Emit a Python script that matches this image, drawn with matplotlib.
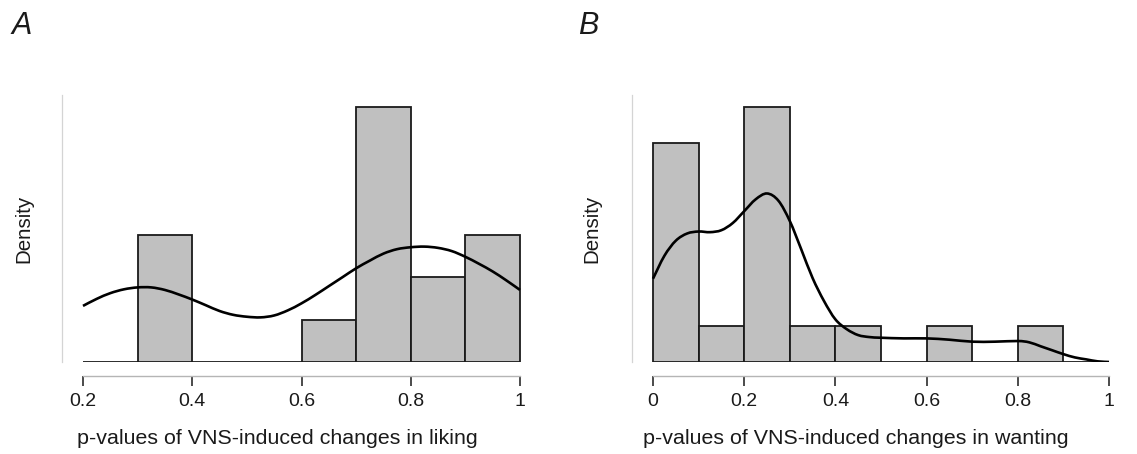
import numpy as np
from matplotlib import pyplot as plt
from matplotlib.path import Path
from matplotlib.patches import PathPatch

plt.rcParams['font.family'] = ['Liberation Sans', 'DejaVu Sans']

# histogram bins (left edges) and counts
liking_edges = [0.2, 0.3, 0.4, 0.5, 0.6, 0.7, 0.8, 0.9]
liking_counts = [0, 3, 0, 0, 1, 6, 2, 3]
wanting_edges = [0.0, 0.1, 0.2, 0.3, 0.4, 0.5, 0.6, 0.7, 0.8, 0.9]
wanting_counts = [6, 1, 7, 1, 1, 0, 1, 0, 1, 0]
bin_w = 0.1

# density curves
liking_kde_x = [0.200, 0.225, 0.250, 0.275, 0.300, 0.325, 0.350, 0.375, 0.400, 0.425,
                0.450, 0.475, 0.500, 0.525, 0.550, 0.575, 0.600, 0.625, 0.650, 0.675,
                0.700, 0.725, 0.750, 0.775, 0.800, 0.825, 0.850, 0.875, 0.900, 0.925,
                0.950, 0.975, 1.000]
liking_kde_y = [0.88, 0.99, 1.08, 1.14, 1.17, 1.17, 1.13, 1.06, 0.98, 0.89,
                0.80, 0.74, 0.71, 0.70, 0.73, 0.81, 0.92, 1.05, 1.19, 1.33,
                1.47, 1.59, 1.70, 1.77, 1.80, 1.81, 1.79, 1.74, 1.65, 1.54,
                1.42, 1.28, 1.13]
wanting_kde_x = [0.000, 0.025, 0.050, 0.075, 0.100, 0.125, 0.150, 0.175, 0.200, 0.225,
                 0.250, 0.275, 0.300, 0.325, 0.350, 0.375, 0.400, 0.425, 0.450, 0.475,
                 0.500, 0.550, 0.600, 0.650, 0.700, 0.750, 0.800, 0.825, 0.850, 0.875,
                 0.900, 0.925, 0.950, 0.975, 1.000]
wanting_kde_y = [1.27, 1.62, 1.85, 1.96, 1.99, 1.98, 2.01, 2.12, 2.30, 2.48,
                 2.57, 2.46, 2.15, 1.72, 1.28, 0.93, 0.65, 0.50, 0.41, 0.38,
                 0.37, 0.36, 0.36, 0.34, 0.31, 0.31, 0.32, 0.30, 0.24, 0.18,
                 0.12, 0.07, 0.04, 0.01, 0.00]

liking_ticks = [0.2, 0.4, 0.6, 0.8, 1.0]
liking_ticklabels = ['0.2', '0.4', '0.6', '0.8', '1']
wanting_ticks = [0.0, 0.2, 0.4, 0.6, 0.8, 1.0]
wanting_ticklabels = ['0', '0.2', '0.4', '0.6', '0.8', '1']

xlabels = ['p-values of VNS-induced changes in liking',
           'p-values of VNS-induced changes in wanting']

W, H = 1137, 454
fig = plt.figure(figsize=(W / 100, H / 100), dpi=100)

ax_a = fig.add_axes([62 / W, (H - 362) / H, (523 - 62) / W, (362 - 95) / H])
ax_b = fig.add_axes([632 / W, (H - 362) / H, (1112 - 632) / W, (362 - 95) / H])


def smooth_path(xs, ys):
    # draw the read points as a smooth bezier line (catmull-rom control points)
    p = np.column_stack([xs, ys])
    verts = [p[0]]
    codes = [Path.MOVETO]
    for i in range(len(p) - 1):
        p0 = p[i - 1] if i > 0 else p[i]
        p3 = p[i + 2] if i + 2 < len(p) else p[i + 1]
        c1 = p[i] + (p[i + 1] - p0) / 6
        c2 = p[i + 1] - (p3 - p[i]) / 6
        verts += [c1, c2, p[i + 1]]
        codes += [Path.CURVE4] * 3
    return Path(verts, codes)


def draw_panel(ax, edges, counts, kx, ky, ticks, ticklabels, x0, x1, px0, px1, xlabel):
    n = sum(counts)
    dens = [c / (n * bin_w) for c in counts]
    ax.bar(edges, dens, width=bin_w, align='edge', color='#c0c0c0',
           edgecolor='#1a1a1a', linewidth=1.3, zorder=2)
    ax.add_patch(PathPatch(smooth_path(kx, ky), facecolor='none', edgecolor='black',
                           linewidth=1.9, zorder=3, capstyle='butt'))

    ppu = (px1 - px0) / (x1 - x0)
    bb = ax.get_position()
    left_px = bb.x0 * W
    right_px = bb.x1 * W
    ax.set_xlim(x0 - (px0 - left_px) / ppu, x1 + (right_px - px1) / ppu)
    ymax = max(dens)
    ax.set_ylim(0, ymax * 267 / 255)

    for s in ['top', 'right']:
        ax.spines[s].set_visible(False)
    ax.spines['left'].set_color('#d4d4d4')
    ax.spines['left'].set_linewidth(0.9)
    ax.spines['bottom'].set_position(('outward', 10))
    ax.spines['bottom'].set_bounds(x0, x1)
    ax.spines['bottom'].set_color('#b5b5b5')
    ax.spines['bottom'].set_linewidth(1.0)

    ax.set_yticks([])
    ax.set_xticks(ticks, ticklabels)
    ax.tick_params(axis='x', direction='out', length=7, width=1.1, color='#1a1a1a',
                   labelsize=14, pad=5, labelcolor='#1a1a1a')

    ax.set_ylabel('Density', fontsize=14.8, color='#1a1a1a')
    ax.yaxis.set_label_coords(-0.063, 0.5)
    ax.set_xlabel(xlabel, fontsize=15.4, color='#1a1a1a', va='top')
    ax.xaxis.set_label_coords(0.467, -0.25)


draw_panel(ax_a, liking_edges, liking_counts, liking_kde_x, liking_kde_y,
           liking_ticks, liking_ticklabels, 0.2, 1.0, 83, 520, xlabels[0])
draw_panel(ax_b, wanting_edges, wanting_counts, wanting_kde_x, wanting_kde_y,
           wanting_ticks, wanting_ticklabels, 0.0, 1.0, 653, 1109, xlabels[1])

fig.text(12 / W, 1 - 34 / H, 'A', fontsize=22, style='italic', color='#1a1a1a')
fig.text(578 / W, 1 - 34 / H, 'B', fontsize=22, style='italic', color='#1a1a1a')

plt.savefig('out.png', dpi=100)
